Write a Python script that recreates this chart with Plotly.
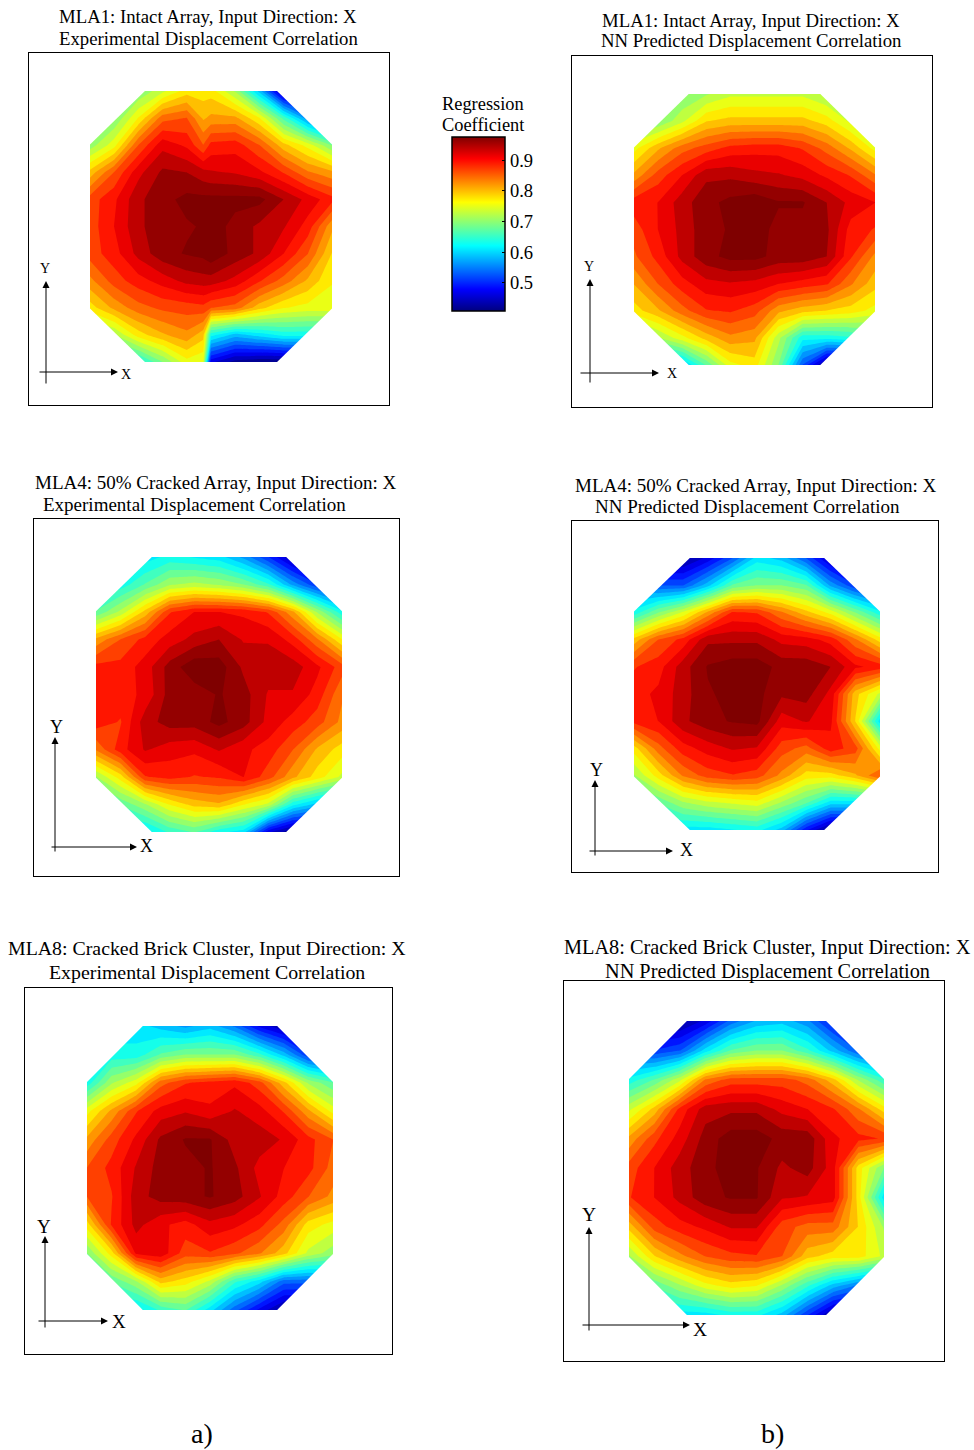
import plotly.graph_objects as go

W, H = 974, 1450
FONT = "Liberation Serif"

U11 = [0, .1, .2, .3, .4, .5, .6, .7, .8, .9, 1]
U12 = [0, .1, .2, .3, .4, .468, .5, .6, .7, .8, .9, 1]
V = [0, .1, .2, .3, .4, .5, .6, .7, .8, .9, 1]
CUT_U, CUT_V = .227, .197

TICKS = [.5, .6, .7, .8, .9]
Z_START, Z_END, Z_STEP = .408, .975, .0227
SCALE_RANGE = [[.408, .975]]
JET = [[0, "rgb(0,0,127)"], [.125, "rgb(0,0,255)"], [.375, "rgb(0,255,255)"],
       [.625, "rgb(255,255,0)"], [.875, "rgb(255,0,0)"], [1, "rgb(127,0,0)"]]

Z1 = [
 [.66,.67,.68,.72,.76,.76,.76,.70,.58,.42,.42,.42],
 [.66,.68,.75,.83,.84,.79,.80,.80,.75,.65,.55,.48],
 [.69,.74,.84,.90,.88,.84,.87,.875,.84,.78,.74,.68],
 [.78,.84,.90,.935,.93,.915,.91,.905,.89,.86,.82,.80],
 [.85,.88,.925,.945,.96,.96,.96,.96,.96,.93,.90,.87],
 [.85,.885,.925,.945,.95,.955,.965,.945,.925,.91,.875,.80],
 [.85,.875,.915,.945,.955,.96,.97,.945,.925,.885,.84,.77],
 [.81,.85,.875,.895,.915,.92,.92,.90,.865,.83,.79,.75],
 [.76,.80,.83,.845,.85,.855,.84,.83,.78,.75,.74,.74],
 [.68,.70,.76,.79,.81,.78,.62,.58,.60,.62,.62,.62],
 [.62,.62,.62,.68,.74,.73,.46,.42,.41,.41,.41,.41],
]
Z2 = [
 [.68,.68,.68,.70,.72,.72,.72,.72,.70,.68,.66],
 [.68,.68,.72,.77,.78,.78,.78,.78,.76,.72,.68],
 [.74,.79,.83,.85,.87,.875,.875,.86,.83,.79,.74],
 [.80,.85,.885,.925,.925,.915,.91,.90,.88,.86,.82],
 [.875,.885,.92,.945,.96,.97,.955,.955,.93,.90,.885],
 [.85,.885,.915,.945,.955,.965,.945,.945,.935,.875,.86],
 [.835,.87,.915,.945,.96,.96,.945,.945,.93,.865,.81],
 [.795,.84,.875,.90,.905,.90,.885,.875,.865,.82,.78],
 [.76,.79,.83,.86,.865,.85,.80,.78,.77,.76,.74],
 [.66,.70,.74,.78,.81,.80,.71,.62,.62,.63,.65],
 [.50,.54,.58,.66,.74,.76,.68,.52,.41,.41,.41],
]
Z3 = [
 [.60,.60,.60,.62,.61,.60,.56,.50,.43,.42,.42],
 [.61,.62,.66,.70,.71,.70,.68,.64,.56,.50,.47],
 [.66,.71,.78,.86,.885,.885,.88,.86,.80,.70,.62],
 [.80,.84,.87,.895,.915,.93,.905,.905,.875,.82,.75],
 [.87,.87,.895,.94,.97,.965,.925,.92,.92,.89,.85],
 [.87,.875,.89,.94,.94,.955,.94,.905,.905,.875,.82],
 [.875,.86,.92,.94,.94,.96,.94,.90,.875,.85,.81],
 [.82,.875,.91,.895,.89,.91,.89,.875,.84,.79,.76],
 [.70,.76,.86,.87,.86,.865,.885,.85,.80,.76,.72],
 [.62,.66,.70,.75,.78,.79,.75,.72,.62,.58,.56],
 [.60,.60,.60,.64,.66,.62,.60,.46,.41,.41,.41],
]
Z4 = [
 [.42,.42,.42,.46,.52,.60,.58,.52,.44,.42,.42],
 [.55,.52,.52,.58,.66,.68,.68,.66,.56,.50,.48],
 [.62,.68,.73,.80,.865,.86,.82,.78,.74,.68,.62],
 [.78,.84,.87,.925,.925,.925,.90,.895,.875,.82,.76],
 [.86,.875,.92,.955,.965,.965,.945,.945,.93,.89,.875],
 [.875,.89,.92,.95,.96,.96,.935,.94,.90,.78,.72],
 [.87,.885,.925,.945,.955,.96,.895,.91,.89,.77,.60],
 [.76,.83,.875,.895,.91,.905,.85,.83,.875,.85,.74],
 [.70,.76,.82,.85,.86,.85,.81,.76,.76,.79,.84],
 [.64,.66,.70,.72,.73,.74,.70,.66,.60,.60,.62],
 [.60,.60,.60,.60,.61,.62,.58,.48,.41,.41,.41],
]
Z5 = [
 [.60,.60,.60,.58,.56,.58,.54,.47,.43,.42,.42],
 [.62,.62,.62,.66,.68,.68,.68,.64,.58,.50,.48],
 [.62,.70,.74,.83,.86,.87,.88,.85,.78,.70,.66],
 [.74,.80,.86,.895,.905,.89,.91,.895,.86,.80,.74],
 [.80,.85,.89,.935,.955,.955,.92,.92,.905,.87,.84],
 [.84,.87,.91,.94,.945,.955,.935,.90,.885,.87,.83],
 [.84,.86,.92,.94,.945,.955,.94,.91,.875,.84,.81],
 [.76,.865,.915,.89,.875,.90,.89,.87,.83,.76,.74],
 [.68,.76,.89,.90,.85,.86,.845,.82,.78,.72,.69],
 [.62,.66,.70,.78,.76,.72,.64,.60,.53,.53,.55],
 [.60,.60,.60,.64,.66,.60,.53,.47,.42,.41,.41],
]
Z6 = [
 [.42,.42,.42,.46,.53,.57,.58,.55,.48,.45,.44],
 [.52,.50,.52,.60,.66,.68,.68,.64,.58,.52,.50],
 [.62,.66,.72,.82,.85,.85,.85,.83,.78,.70,.64],
 [.72,.78,.87,.92,.925,.925,.90,.885,.865,.82,.76],
 [.80,.855,.895,.94,.965,.965,.945,.945,.89,.87,.86],
 [.85,.885,.92,.945,.965,.955,.925,.94,.895,.76,.68],
 [.86,.885,.915,.945,.955,.955,.91,.905,.895,.76,.60],
 [.78,.85,.875,.89,.91,.91,.85,.83,.83,.77,.70],
 [.70,.77,.81,.84,.855,.86,.84,.78,.76,.76,.72],
 [.64,.66,.70,.74,.76,.75,.70,.64,.58,.54,.52],
 [.60,.60,.60,.60,.62,.62,.58,.50,.42,.41,.41],
]

PANELS = [
 dict(z=Z1, u=U12, frame=(28,52,390,406), oct=(90,91,332,362),
      title=[("MLA1: Intact Array, Input Direction: X",208,17),("Experimental Displacement Correlation",208,38)], fs=18.75,
      ax=(38,372,118,46,385,281), xl=(126,375), yl=(45,268), lfs=14),
 dict(z=Z2, u=U11, frame=(571,55,933,408), oct=(634,94,875,365),
      title=[("MLA1: Intact Array, Input Direction: X",751,20),("NN Predicted Displacement Correlation",751,41)], fs=18.75,
      ax=(579,373,659,590,384,279), xl=(672,373), yl=(589,266), lfs=14),
 dict(z=Z3, u=U11, frame=(33,518,400,877), oct=(96,557,342,832),
      title=[("MLA4: 50% Cracked Array, Input Direction: X",216,482),("Experimental Displacement Correlation",194,505)], fs=19,
      ax=(50,847,137,55,853,737), xl=(146,846), yl=(56,727), lfs=18),
 dict(z=Z4, u=U11, frame=(571,520,939,873), oct=(634,558,880,830),
      title=[("MLA4: 50% Cracked Array, Input Direction: X",756,485),("NN Predicted Displacement Correlation",747,507)], fs=19,
      ax=(588,851,673,595,857,780), xl=(686,850), yl=(596,770), lfs=18),
 dict(z=Z5, u=U11, frame=(24,987,393,1355), oct=(87,1026,333,1310),
      title=[("MLA8: Cracked Brick Cluster, Input Direction: X",207,948),("Experimental Displacement Correlation",207,972)], fs=19.85,
      ax=(37,1321,108,45,1329,1236), xl=(119,1321), yl=(44,1226), lfs=19),
 dict(z=Z6, u=U11, frame=(563,980,945,1362), oct=(629,1021,884,1315),
      title=[("MLA8: Cracked Brick Cluster, Input Direction: X",767,947),("NN Predicted Displacement Correlation",767,971)], fs=20.3,
      ax=(581,1325,690,589,1332,1227), xl=(700,1329), yl=(589,1214), lfs=19.5),
]

def px(x): return x / W
def py(y): return 1 - y / H

fig = go.Figure()
layout = dict(width=W, height=H, margin=dict(l=0, r=0, t=0, b=0), autosize=False,
              paper_bgcolor="white", plot_bgcolor="white", showlegend=False,
              font=dict(family=FONT, color="black"))
annotations, shapes = [], []

def text(s, x, y, size):
    annotations.append(dict(text=s, x=px(x), y=py(y), xref="paper", yref="paper",
                            showarrow=False, xanchor="center", yanchor="middle",
                            font=dict(family=FONT, size=size, color="black")))

def arrow(x0, y0, x1, y1):
    annotations.append(dict(text="", x=px(x1), y=py(y1), xref="paper", yref="paper",
                            ax=x0 - x1, ay=y0 - y1, axref="pixel", ayref="pixel",
                            showarrow=True, arrowhead=2, arrowsize=1.4, arrowwidth=1,
                            arrowcolor="black", standoff=0))

for i, p in enumerate(PANELS, 1):
    fx0, fy0, fx1, fy1 = p["frame"]
    fx0 += 1; fy0 += 1; fx1 -= 1; fy1 -= 1
    ox0, oy0, ox1, oy1 = p["oct"]
    xname, yname = ("x", "y") if i == 1 else (f"x{i}", f"y{i}")
    common = dict(showgrid=False, zeroline=False, showticklabels=False, ticks="",
                  showline=True, mirror=True, linecolor="black", linewidth=1.2)
    layout[f"xaxis{i}"] = dict(domain=[px(fx0), px(fx1)], anchor=yname,
                               range=[(fx0 - ox0) / (ox1 - ox0), (fx1 - ox0) / (ox1 - ox0)], **common)
    layout[f"yaxis{i}"] = dict(domain=[py(fy1), py(fy0)], anchor=xname,
                               range=[(fy1 - oy0) / (oy1 - oy0), (fy0 - oy0) / (oy1 - oy0)], **common)
    fig.add_trace(go.Contour(z=p["z"], x=p["u"], y=V, xaxis=xname, yaxis=yname, colorscale=JET,
                             zmin=Z_START, zmax=Z_END,
                             autocontour=False, hoverinfo="skip",
                             contours=dict(start=Z_START, end=Z_END, size=Z_STEP,
                                           coloring="fill", showlines=False),
                             line=dict(width=0, smoothing=0), showscale=False))
    for cx, cy, dx, dy in [(0, 0, 1, 1), (1, 0, -1, 1), (0, 1, 1, -1), (1, 1, -1, -1)]:
        bx, by = cx - dx * .01, cy - dy * .01
        path = (f"M {bx} {by} L {cx + dx * CUT_U} {by} L {cx + dx * CUT_U} {cy} "
                f"L {cx} {cy + dy * CUT_V} L {bx} {cy + dy * CUT_V} Z")
        shapes.append(dict(type="path", path=path, xref=xname, yref=yname,
                           fillcolor="white", line=dict(width=0), layer="above"))
    for s, x, y in p["title"]:
        text(s, x, y, p["fs"])
    ax0, ay, ax1, yx, y0, y1 = p["ax"]
    arrow(ax0, ay, ax1, ay)
    arrow(yx, y0, yx, y1)
    text("X", *p["xl"], p["lfs"])
    text("Y", *p["yl"], p["lfs"])

# continuous colour bar, carried by a heatmap that sits directly behind it
hidden = dict(visible=False)
layout["xaxis7"] = dict(domain=[px(453), px(504)], anchor="y7", **hidden)
layout["yaxis7"] = dict(domain=[py(310), py(138)], anchor="x7", **hidden)
fig.add_trace(go.Heatmap(z=SCALE_RANGE, xaxis="x7", yaxis="y7", colorscale=JET,
                         zmin=Z_START, zmax=Z_END, hoverinfo="skip",
                         colorbar=dict(x=px(452), xanchor="left", y=py(311), yanchor="bottom",
                                       thickness=53, thicknessmode="pixels", len=174, lenmode="pixels",
                                       xpad=0, ypad=0, outlinecolor="black", outlinewidth=1.5,
                                       tickmode="array", tickvals=TICKS,
                                       ticktext=[f"{t:.1f}" for t in TICKS],
                                       ticks="inside", ticklen=3, tickcolor="black",
                                       tickfont=dict(family=FONT, size=18.5, color="black"))))

text("Regression", 483, 104, 18.4)
text("Coefficient", 483, 125, 18.4)
text("a)", 202, 1433, 28)
text("b)", 772, 1433, 28)

layout["annotations"] = annotations
layout["shapes"] = shapes
fig.update_layout(**layout)
fig.write_html("out.html", config=dict(displayModeBar=False),
               post_script="document.body.style.margin='0';document.body.style.overflow='hidden';")
